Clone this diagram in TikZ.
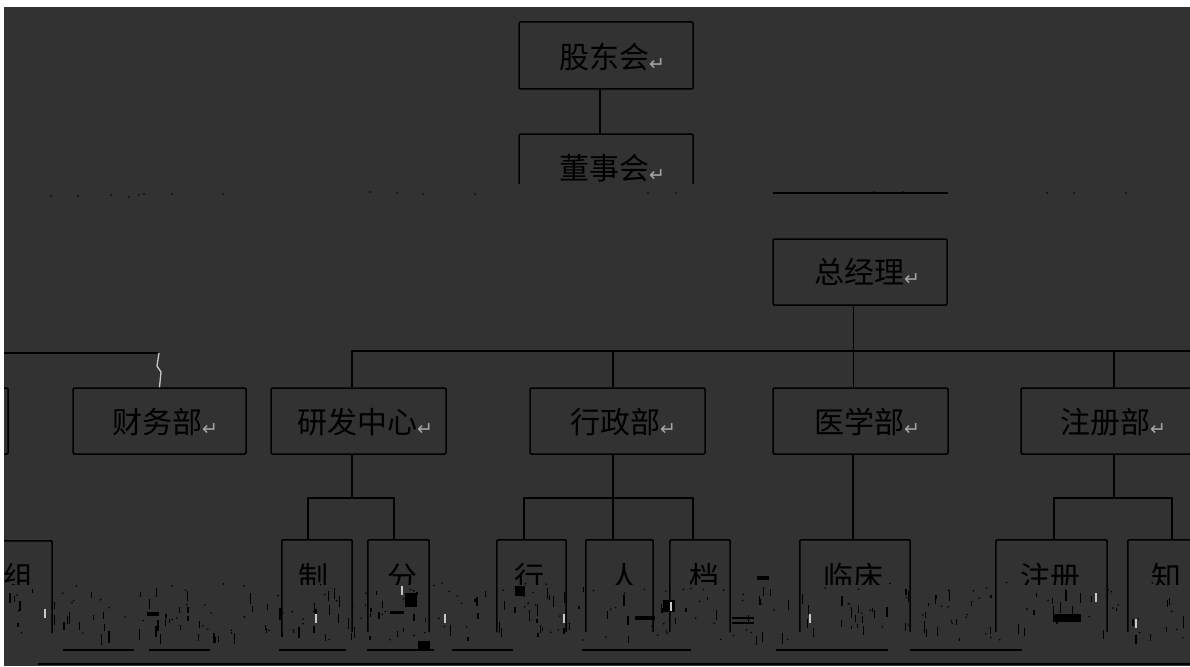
\documentclass[tikz,border=0pt]{standalone}
\usepackage{fontspec}
\newfontfamily\cjk{Noto Sans CJK SC}
\newfontfamily\symf{DejaVu Sans}
\definecolor{bg}{RGB}{50,50,50}
\definecolor{retc}{RGB}{165,165,165}
\definecolor{glitch}{RGB}{200,200,200}
\newcommand{\rt}{{\symf\fontsize{19}{19}\selectfont\color{retc}\raisebox{-2pt}{↵}}}
\begin{document}
\begin{tikzpicture}[x=1pt,y=-1pt,
  ln/.style={draw=black,line width=1.5pt},
  box/.style={ln,rounded corners=1.2pt,minimum width=#1,minimum height=66,inner sep=0pt},
  cell/.style={draw=none,minimum width=#1,minimum height=92,inner sep=0pt},
  lab/.style={inner sep=0pt,font=\cjk\fontsize{30}{34}\selectfont,text=black},
  labw/.style={lab,anchor=west},
  dot/.style={fill=black,circle,inner sep=0pt,minimum size=1.8pt},
  tick/.style={draw=black,line width=1.3pt}]
\useasboundingbox (0,0) rectangle (1190,666);
\fill[white] (0,0) rectangle (1190,666);
\fill[bg] (4,7) rectangle (1190,666);
\clip (4,7) rectangle (1190,666);

% top boxes
\node[box=174,minimum height=67] (gd) at (606,55.5) {};
\node[lab] (gdt) at (612,57) {股东会\rt};
\coordinate (dstop) at (600,134);
\draw[ln,rounded corners=1.2pt] (519,184) |- (693,134) -- (693,184);
\node[lab] (dst) at (612,168) {董事会\rt};
\draw[ln] ([xshift=-6]gd.south) -- (dstop);

% cut line and dots
\draw[ln] (773,193) -- (948,193);
\foreach \px/\py in {51/196,78/196,111/195,129/197,139/195,144/194,172/194,223/194,370/192,397/193,423/194,475/194,648/193,676/193,1047/193,1074/193,1126/193,874/192,903/192}
  \node[dot] at (\px,\py) {};

% general manager
\node[box=174] (zjl) at (860,272) {};
\node[lab] (zjlt) at (867,272) {总经理\rt};

% level 2
\node[box=173] (cw) at (159.5,421) {};
\node[lab] (cwt) at (165,422) {财务部\rt};
\node[box=175] (yf) at (358.5,421) {};
\node[lab] (yft) at (365,422) {研发中心\rt};
\node[box=175] (xz) at (617.5,421) {};
\node[lab] (xzt) at (623,422) {行政部\rt};
\node[box=175] (yx) at (860.5,421) {};
\node[lab] (yxt) at (867,422) {医学部\rt};
\node[box=186] (zc) at (1114,421) {};
\node[lab] (zct) at (1113,422) {注册部\rt};
\node[box=120] (lp) at (-52,421) {};

\draw[ln] ([xshift=-6.5]zjl.south) -- ++(0,46) coordinate (bus);
\draw[ln] ([xshift=-6.5]yf.north) |- (1200,351);
\draw[ln] ([xshift=-4.5]xz.north) -- ++(0,-37);
\draw[ln] ([xshift=-7]yx.north) -- (bus);
\draw[ln] (zc.north) -- ++(0,-37);
\coordinate (lc) at (159,353);
\draw[ln] (-5,353) -- (lc);
\draw[draw=glitch,line width=1.3pt] (lc) -- (157,366) -- (161,372) -- (cw.north);

% level 3 cells
\node[cell=57] (zu) at (23.5,587) {};
\node[cell=70] (zhi) at (317,586) {};
\node[cell=61] (fen) at (398.5,586) {};
\node[cell=69] (hang) at (531.5,586) {};
\node[cell=67] (ren) at (619.5,586) {};
\node[cell=60] (dang) at (700,586) {};
\node[cell=110] (linc) at (855,586) {};
\node[cell=111] (zcs) at (1051.5,586) {};
\node[cell=88] (zhis) at (1172,586) {};
\foreach \c in {zu,zhi,fen,hang,ren,dang,linc,zcs,zhis}
  \draw[ln,rounded corners=1.2pt] (\c.south west) |- (\c.north east) -- (\c.south east);

\draw[ln] ([xshift=-6.5]yf.south) -- ++(0,44);
\draw[ln] ([xshift=-9]zhi.north) -- ++(0,-42) -| ([xshift=-4.5]fen.north);
\draw[ln] ([xshift=-4.5]xz.south) -- ([xshift=-6.5]ren.north);
\draw[ln] ([xshift=-7.5]hang.north) -- ++(0,-42) -| ([xshift=-7]dang.north);
\draw[ln] ([xshift=-7.5]yx.south) -- ([xshift=-2]linc.north);
\draw[ln] (zc.south) -- ++(0,44);
\draw[ln] ([xshift=2.5]zcs.north) -- ++(0,-42) -| (zhis.north);

% level 3 texts (cut off by the broken band)
\begin{scope}
\clip (0,545) rectangle (1190,584);
\node[labw] (tzu) at (3,577) {组};
\node[labw] (tzhi) at (298,577) {制};
\node[labw] (tfen) at (387,577) {分};
\node[labw] (thang) at (514,577) {行};
\node[labw] (tren) at (609,577) {人};
\node[labw] (tdang) at (689,577) {档};
\node[labw] (tlinc) at (823,577) {临床};
\node[labw] (tzcs) at (1020,577) {注册};
\node[labw] (tzhis) at (1151,577) {知};
\end{scope}

% broken band: scattered fragments
\pgfmathsetseed{7}
\foreach \i in {1,...,170}{
  \pgfmathsetmacro{\tx}{10+rnd*1175}
  \pgfmathsetmacro{\ty}{586+rnd*52}
  \pgfmathsetmacro{\th}{3+rnd*9}
  \draw[tick] (\tx,\ty) -- ++(0,\th);
}
\foreach \i in {1,...,140}{
  \pgfmathsetmacro{\tx}{10+rnd*1175}
  \pgfmathsetmacro{\ty}{582+rnd*58}
  \node[dot] at (\tx,\ty) {};
}
\foreach \bx/\by/\bw/\bh in {147/612/12/4,405/593/12/14,390/611/14/3,635/616/20/4,757/576/12/4,515/586/10/10,663/600/12/12,1053/614/28/8,732/617/22/2,732/622/22/2,418/641/12/10}
  \fill[black] (\bx,\by) rectangle ++(\bw,\bh);
\foreach \gx/\gy in {45/609,316/614,402/586,445/614,564/614,671/602,810/614,1096/593,1136/619,1201/610}
  \draw[draw=glitch,line width=1.2pt] (\gx,\gy) -- ++(0,9);

% broken bottom edges
\foreach \a/\b in {63/134,149/210,279/346,367/434,452/513,582/691,776/888,910/1022}
  \draw[ln] (\a,650) -- (\b,650);
\draw[ln] (38,664) -- (1195,664);
\end{tikzpicture}
\end{document}
